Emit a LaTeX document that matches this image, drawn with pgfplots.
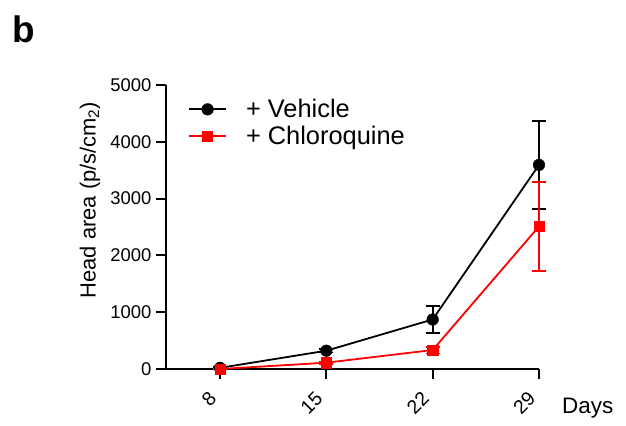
\documentclass[border=0pt]{standalone}
\usepackage{fontspec}
\setmainfont{Liberation Sans}
\usepackage{pgfplots}
\pgfplotsset{compat=1.18}
\begin{document}
\begin{tikzpicture}
\path[use as bounding box] (0,0) rectangle (626bp,426bp);
\node[anchor=base west, font=\fontsize{37}{40}\selectfont\bfseries, inner sep=0pt] at (12bp,383bp) {b};
\begin{axis}[
  at={(166bp,57bp)}, anchor=south west, scale only axis,
  width=373bp, height=284bp,
  xmin=4.445, xmax=29, ymin=0, ymax=5000,
  axis x line=bottom, axis y line=left,
  axis line style={-, line width=2bp, black},
  xtick={8,15,22,29}, ytick={0,1000,2000,3000,4000,5000},
  tick align=outside, major tick length=10bp,
  every tick/.style={black, line width=2bp},
  /pgf/number format/assume math mode=true,
  /pgf/number format/1000 sep={},
  y tick label style={font=\fontsize{18.5}{20}\selectfont, xshift=-1bp},
  x tick label style={font=\fontsize{19.5}{21}\selectfont, yshift=-11bp, xshift=-12bp, rotate=45, anchor=north east, inner sep=0pt},
  ylabel={Head area (p/s/cm\textsubscript{2})},
  ylabel style={at={(axis description cs:-0.204,0.595)}, anchor=center, font=\fontsize{22}{24}\selectfont},
  xlabel={Days},
  xlabel style={at={(axis description cs:1.0617,-0.155)}, anchor=base west, inner sep=0pt, font=\fontsize{22.5}{24}\selectfont},
  clip=false,
  legend cell align=left,
  legend image code/.code={\draw[mark repeat=2,mark phase=2,#1] plot coordinates {(0bp,0bp) (18.5bp,0bp) (37bp,0bp)};},
  legend style={draw=none, fill=none, at={(axis description cs:0.059,0.950)}, anchor=north west,
    inner sep=0pt, font=\fontsize{25.5}{27}\selectfont, row sep=7bp,
    nodes={inner sep=0pt},
    /tikz/every odd column/.append style={column sep=19bp}},
]
\addplot[black, line width=1.8bp, mark=*, mark size=5.8bp, mark options={line width=0.5bp},
  error bars/.cd, y dir=both, y explicit,
  error bar style={line width=1.8bp},
  error mark options={rotate=90, mark size=7bp, line width=1.8bp}]
  coordinates {(8,20) +- (0,10) (15,322) +- (0,30) (22,872) +- (0,238) (29,3594) +- (0,772)};
\addlegendentry{+ Vehicle}
\addplot[red, line width=1.8bp, mark=square*, mark size=5.1bp, mark options={line width=0.5bp},
  error bars/.cd, y dir=both, y explicit,
  error bar style={line width=1.8bp},
  error mark options={rotate=90, mark size=7bp, line width=1.8bp}]
  coordinates {(8,0) +- (0,10) (15,111) +- (0,20) (22,334) +- (0,60) (29,2510) +- (0,778)};
\addlegendentry{+ Chloroquine}
\end{axis}
\end{tikzpicture}
\end{document}
